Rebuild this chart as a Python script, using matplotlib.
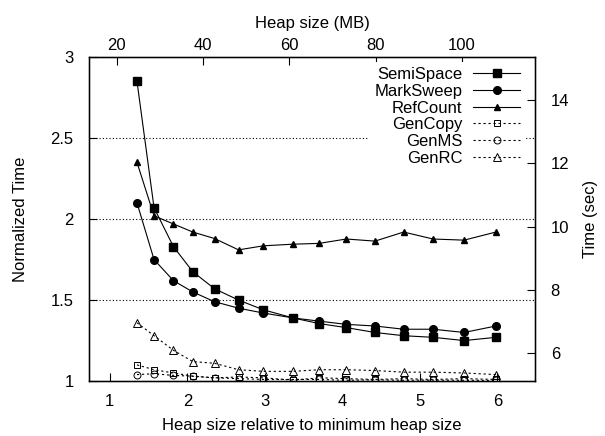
import matplotlib
matplotlib.use("Agg")
import matplotlib.pyplot as plt

plt.rcParams['font.family'] = ['Liberation Sans', 'DejaVu Sans']
plt.rcParams['font.size'] = 12

# heap size relative to minimum heap size
heap = [1.35, 1.57, 1.82, 2.07, 2.35, 2.66, 2.98, 3.36, 3.70,
        4.05, 4.42, 4.79, 5.17, 5.57, 5.98]

semispace = [2.85, 2.07, 1.83, 1.675, 1.57, 1.50, 1.44, 1.39, 1.355,
             1.33, 1.30, 1.28, 1.27, 1.25, 1.27]
marksweep = [2.10, 1.75, 1.62, 1.55, 1.49, 1.45, 1.42, 1.39, 1.37,
             1.35, 1.34, 1.32, 1.32, 1.30, 1.34]
refcount = [2.35, 2.02, 1.97, 1.92, 1.88, 1.81, 1.835, 1.845, 1.85,
            1.877, 1.864, 1.92, 1.877, 1.87, 1.92]
gencopy = [1.10, 1.07, 1.05, 1.03, 1.02, 1.025, 1.02, 1.006, 1.02,
           1.015, 1.01, 1.015, 1.01, 1.015, 1.01]
genms = [1.04, 1.045, 1.035, 1.03, 1.02, 1.015, 1.01, 1.01, 1.01,
         1.005, 1.008, 1.005, 1.006, 1.005, 1.004]
genrc = [1.36, 1.28, 1.19, 1.12, 1.11, 1.07, 1.06, 1.06, 1.07,
         1.07, 1.065, 1.055, 1.055, 1.05, 1.04]

fig = plt.figure(figsize=(6.05, 4.36), dpi=100)
ax = fig.add_axes([0.147, 0.126, 0.738, 0.743])

lw = 0.8
ax.plot(heap, semispace, '-', color='black', lw=lw, marker='s', ms=6, label='SemiSpace')
ax.plot(heap, marksweep, '-', color='black', lw=lw, marker='o', ms=5.5, label='MarkSweep')
ax.plot(heap, refcount, '-', color='black', lw=lw, marker='^', ms=4.5, label='RefCount')
dots = (0, (2, 2.5))
ax.plot(heap, gencopy, color='black', lw=lw, ls=dots, marker='s', ms=5, mfc='none', mew=0.7, label='GenCopy')
ax.plot(heap, genms, color='black', lw=lw, ls=dots, marker='o', ms=5, mfc='none', mew=0.7, label='GenMS')
ax.plot(heap, genrc, color='black', lw=lw, ls=dots, marker='^', ms=5.5, mfc='none', mew=0.7, label='GenRC')

ax.set_xlim(0.73, 6.49)
ax.set_ylim(1, 3)
ax.set_xticks([1, 2, 3, 4, 5, 6])
ax.set_yticks([1, 1.5, 2, 2.5, 3])
ax.set_yticklabels(['1', '1.5', '2', '2.5', '3'])
for yv in [1.5, 2, 2.5]:
    ax.axhline(yv, color='black', lw=0.8, ls=(0, (1, 2)), zorder=0)
ax.tick_params(direction='in', length=6, width=0.8, top=False, right=False)
ax.tick_params(axis='x', pad=9)
ax.tick_params(axis='y', pad=11)
ax.set_xlabel('Heap size relative to minimum heap size', labelpad=7)
ax.set_ylabel('Normalized Time', labelpad=16)
for s in ax.spines.values():
    s.set_linewidth(1.0)

ax_r = ax.twinx()
ax_r.set_ylim(5.12, 15.36)
ax_r.set_yticks([6, 8, 10, 12, 14])
ax_r.tick_params(direction='in', length=6, width=0.8, pad=11)
ax_r.set_ylabel('Time (sec)', labelpad=10)

ax_t = ax.twiny()
ax_t.set_xlim(13.6, 117)
ax_t.set_xticks([20, 40, 60, 80, 100])
ax_t.tick_params(direction='in', length=6, width=0.8, pad=3)
ax_t.set_xlabel('Heap size (MB)', labelpad=7)

leg = ax_t.legend(*ax.get_legend_handles_labels(), loc='upper right',
                  bbox_to_anchor=(0.995, 1.01), markerfirst=False,
                  frameon=True, fancybox=False, framealpha=1,
                  edgecolor='none', facecolor='white',
                  handlelength=2.8, handletextpad=0.65, labelspacing=0.1,
                  borderpad=0.3, fontsize=12)

fig.savefig('out.png', dpi=100)
